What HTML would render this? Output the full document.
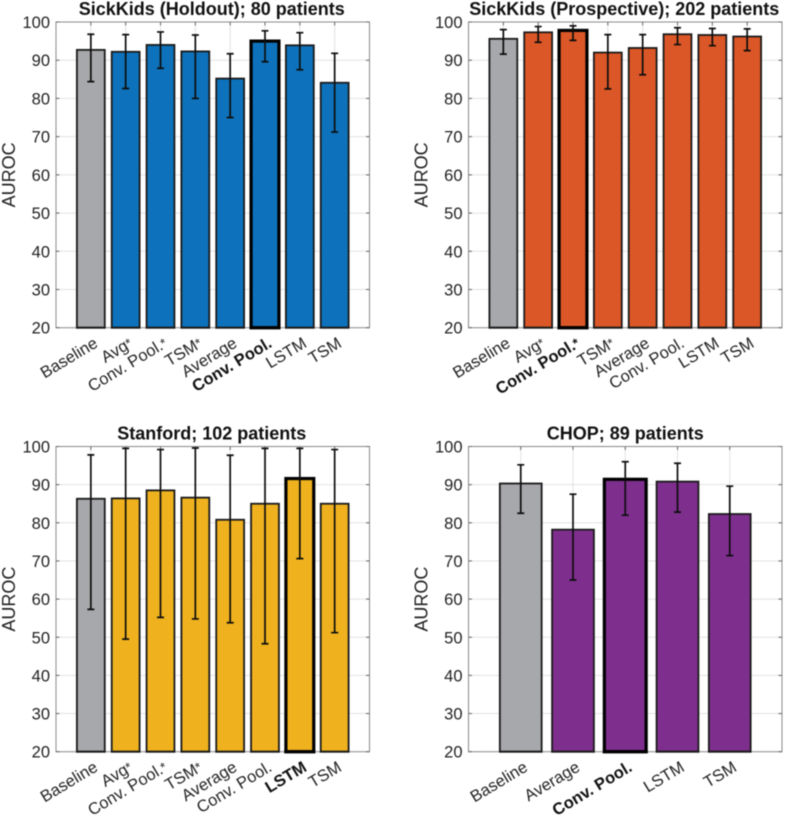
<!DOCTYPE html>
<html lang="en">
<head>
<meta charset="utf-8">
<title>AUROC by model and cohort</title>
<style>
html,body{margin:0;padding:0;background:#fff;width:785px;height:818px;overflow:hidden}
svg{display:block;filter:blur(0.4px)}
text{font-family:"Liberation Sans",Arial,sans-serif;fill:#222}
</style>
</head>
<body>
<svg id="chart" xmlns="http://www.w3.org/2000/svg" width="785" height="818" viewBox="0 0 785 818"></svg>
<script>
var yTicks = [20, 30, 40, 50, 60, 70, 80, 90, 100];
var panel1Title = 'SickKids (Holdout); 80 patients';
var panel1Categories = ['Baseline', 'Avg*', 'Conv. Pool.*', 'TSM*', 'Average', 'Conv. Pool.', 'LSTM', 'TSM'];
var panel1Values = [92.7, 92.2, 94.0, 92.3, 85.2, 95.0, 93.9, 84.1];
var panel1Low = [84.4, 82.6, 87.9, 80.0, 75.0, 89.6, 87.5, 71.2];
var panel1High = [96.8, 96.7, 97.4, 96.6, 91.7, 97.7, 97.2, 91.8];
var panel1Best = 5;

var panel2Title = 'SickKids (Prospective); 202 patients';
var panel2Categories = ['Baseline', 'Avg*', 'Conv. Pool.*', 'TSM*', 'Average', 'Conv. Pool.', 'LSTM', 'TSM'];
var panel2Values = [95.6, 97.3, 97.8, 92.0, 93.2, 96.8, 96.6, 96.2];
var panel2Low = [91.6, 94.7, 95.2, 82.5, 86.2, 94.1, 93.8, 92.5];
var panel2High = [98.0, 98.8, 99.0, 96.7, 96.7, 98.5, 98.3, 98.2];
var panel2Best = 2;

var panel3Title = 'Stanford; 102 patients';
var panel3Categories = ['Baseline', 'Avg*', 'Conv. Pool.*', 'TSM*', 'Average', 'Conv. Pool.', 'LSTM', 'TSM'];
var panel3Values = [86.3, 86.4, 88.5, 86.6, 80.8, 85.0, 91.6, 85.0];
var panel3Low = [57.3, 49.5, 55.2, 54.8, 53.8, 48.3, 70.6, 51.2];
var panel3High = [97.8, 99.5, 99.2, 99.6, 97.7, 99.5, 99.5, 99.2];
var panel3Best = 6;

var panel4Title = 'CHOP; 89 patients';
var panel4Categories = ['Baseline', 'Average', 'Conv. Pool.', 'LSTM', 'TSM'];
var panel4Values = [90.3, 78.2, 91.4, 90.8, 82.3];
var panel4Low = [82.5, 65.0, 82.0, 82.8, 71.4];
var panel4High = [95.2, 87.5, 96.0, 95.6, 89.6];
var panel4Best = 2;

var NS = 'http://www.w3.org/2000/svg';
var root = document.getElementById('chart');

function node(parent, tag, attrs) {
  var el = document.createElementNS(NS, tag);
  for (var k in attrs) el.setAttribute(k, attrs[k]);
  parent.appendChild(el);
  return el;
}

function drawPanel(slug, box, title, cats, vals, low, high, best, color) {
  var yScale = function (v) { return box.bottom - (v - 20) / 80 * (box.bottom - box.top); };
  var step = (box.right - box.left) / (cats.length + 1);
  var xScale = function (i) { return box.left + step * (i + 1); };
  var barW = step * 0.8;
  var g = node(root, 'g', {});
  
  

  node(g, 'rect', {x: box.left, y: box.top, width: box.right - box.left, height: box.bottom - box.top, fill: '#fff'});

  // grid lines
  yTicks.forEach(function (t) {
    if (t === 20 || t === 100) return;
    var gl = node(g, 'line', {x1: box.left, x2: box.right, y1: yScale(t), y2: yScale(t), stroke: '#e2e2e2', 'stroke-width': 1});
    
    
  });
  cats.forEach(function (c, i) {
    var gl = node(g, 'line', {x1: xScale(i), x2: xScale(i), y1: box.top, y2: box.bottom, stroke: '#e2e2e2', 'stroke-width': 1});
    
    
  });

  // bars
  cats.forEach(function (c, i) {
    var isBest = i === best;
    var sw = isBest ? 3.2 : 1.8;
    var top = yScale(vals[i]);
    var bar = node(g, 'rect', {
      x: xScale(i) - barW / 2, y: top, width: barW, height: box.bottom - top,
      fill: i === 0 ? '#a7a8ab' : color,
      stroke: isBest ? '#000' : '#1a1a1a', 'stroke-width': sw
    });
    
    
  });

  // axes box
  var frame = node(g, 'rect', {x: box.left, y: box.top, width: box.right - box.left, height: box.bottom - box.top, fill: 'none', stroke: '#8a8a8a', 'stroke-width': 1});
  
  

  // re-draw baseline of bars above the frame
  cats.forEach(function (c, i) {
    var sw = i === best ? 3.2 : 1.8;
    node(g, 'line', {x1: xScale(i) - barW / 2 - sw / 2, x2: xScale(i) + barW / 2 + sw / 2, y1: box.bottom, y2: box.bottom, stroke: i === best ? '#000' : '#1a1a1a', 'stroke-width': sw});
  });

  // ticks
  yTicks.forEach(function (t) {
    var y = yScale(t);
    node(g, 'line', {x1: box.left, x2: box.left + 3.5, y1: y, y2: y, stroke: '#666', 'stroke-width': 1});
    node(g, 'line', {x1: box.right - 3.5, x2: box.right, y1: y, y2: y, stroke: '#666', 'stroke-width': 1});
    var lab = node(g, 'text', {x: box.left - 6, y: y + 6, 'text-anchor': 'end', 'font-size': 16.5});
    
    
    lab.textContent = t;
  });
  cats.forEach(function (c, i) {
    node(g, 'line', {x1: xScale(i), x2: xScale(i), y1: box.top, y2: box.top + 3.5, stroke: '#666', 'stroke-width': 1});
  });

  // error bars
  cats.forEach(function (c, i) {
    var x = xScale(i);
    var eb = node(g, 'path', {
      d: 'M' + x + ' ' + yScale(low[i]) + 'V' + yScale(high[i]) +
         'M' + (x - 3.5) + ' ' + yScale(low[i]) + 'H' + (x + 3.5) +
         'M' + (x - 3.5) + ' ' + yScale(high[i]) + 'H' + (x + 3.5),
      fill: 'none', stroke: '#0d0d0d', 'stroke-width': 1.7
    });
    
    
  });

  // category labels
  cats.forEach(function (c, i) {
    var x = xScale(i) + 8;
    var y = box.bottom + 18.5;
    var lab = node(g, 'text', {
      x: x, y: y, 'text-anchor': 'end', 'font-size': 16.5,
      transform: 'rotate(-31 ' + x + ' ' + y + ')',
      'font-weight': i === best ? 'bold' : 'normal'
    });
    
    
    if (i === best) lab.style.fill = '#111';
    if (c.charAt(c.length - 1) === '*') {
      lab.appendChild(document.createTextNode(c.slice(0, -1)));
      var star = node(lab, 'tspan', {'font-size': 13, dy: -1});
      star.textContent = '*';
    } else {
      lab.textContent = c;
    }
  });

  // y axis title
  var yx = box.left - 41;
  var yy = (box.top + box.bottom) / 2;
  var yt = node(g, 'text', {x: yx, y: yy, 'text-anchor': 'middle', 'font-size': 18, transform: 'rotate(-90 ' + yx + ' ' + yy + ')'});
  
  
  yt.textContent = 'AUROC';

  // title
  var tt = node(g, 'text', {x: (box.left + box.right) / 2 + box.titleShift, y: box.top - 7, 'text-anchor': 'middle', 'font-size': 18, 'font-weight': 'bold'});
  
  
  tt.style.fill = '#111';
  tt.textContent = title;
}

drawPanel('sickkids-holdout', {left: 56, right: 369.5, top: 22, bottom: 327.7, titleShift: -1},
  panel1Title, panel1Categories, panel1Values, panel1Low, panel1High, panel1Best, '#0d72bb');
drawPanel('sickkids-prospective', {left: 468.5, right: 782, top: 22, bottom: 327.7, titleShift: -1},
  panel2Title, panel2Categories, panel2Values, panel2Low, panel2High, panel2Best, '#dc5727');
drawPanel('stanford', {left: 56, right: 369.5, top: 446.5, bottom: 751.7, titleShift: -1},
  panel3Title, panel3Categories, panel3Values, panel3Low, panel3High, panel3Best, '#efb21e');
drawPanel('chop', {left: 468.5, right: 782, top: 446.5, bottom: 751.7, titleShift: 0},
  panel4Title, panel4Categories, panel4Values, panel4Low, panel4High, panel4Best, '#7e2f8e');
</script>
</body>
</html>
